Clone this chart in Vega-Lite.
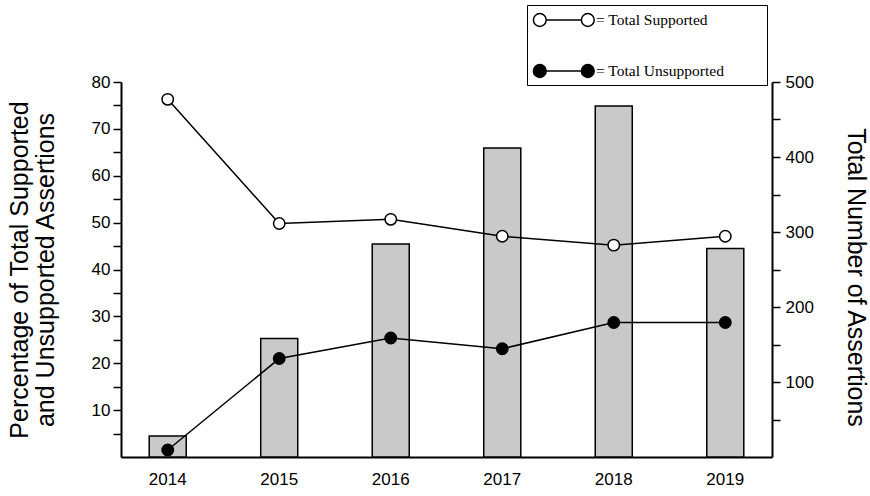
{
  "$schema": "https://vega.github.io/schema/vega-lite/v6.json",
  "width": 651,
  "height": 375,
  "autosize": {"type": "none"},
  "padding": {"left": 121, "top": 82, "right": 98, "bottom": 39},
  "background": "white",
  "datasets": {
    "totals": [
      {"year": "2014", "total": 28},
      {"year": "2015", "total": 158},
      {"year": "2016", "total": 284},
      {"year": "2017", "total": 412},
      {"year": "2018", "total": 468},
      {"year": "2019", "total": 278}
    ],
    "pcts": [
      {"year": "2014", "series": "Total Supported", "pct": 76.3},
      {"year": "2015", "series": "Total Supported", "pct": 49.8},
      {"year": "2016", "series": "Total Supported", "pct": 50.7},
      {"year": "2017", "series": "Total Supported", "pct": 47.1},
      {"year": "2018", "series": "Total Supported", "pct": 45.2},
      {"year": "2019", "series": "Total Supported", "pct": 47.1},
      {"year": "2014", "series": "Total Unsupported", "pct": 1.5},
      {"year": "2015", "series": "Total Unsupported", "pct": 21.0},
      {"year": "2016", "series": "Total Unsupported", "pct": 25.4},
      {"year": "2017", "series": "Total Unsupported", "pct": 23.1},
      {"year": "2018", "series": "Total Unsupported", "pct": 28.7},
      {"year": "2019", "series": "Total Unsupported", "pct": 28.7}
    ]
  },
  "config": {
    "view": {"stroke": null},
    "axis": {
      "labelFont": "Liberation Sans",
      "titleFont": "Liberation Sans",
      "labelColor": "black",
      "titleColor": "black",
      "domainColor": "black",
      "tickColor": "black",
      "domainWidth": 2,
      "tickWidth": 1.5,
      "labelFontSize": 17,
      "titleFontSize": 25,
      "titleFontWeight": "normal",
      "labelOverlap": false,
      "grid": false
    },
    "legend": {
      "orient": "none",
      "legendX": 406,
      "legendY": -77,
      "padding": 4,
      "rowPadding": 30,
      "strokeColor": "black",
      "labelFont": "Liberation Serif",
      "labelFontSize": 15.5,
      "labelColor": "black",
      "labelOffset": 43,
      "symbolSize": 400,
      "symbolStrokeColor": "black",
      "symbolStrokeWidth": 1.5,
      "symbolOpacity": 1,
      "symbolType": "M0.42,0 C0.42,0.354 0.134,0.64 -0.22,0.64 C-0.574,0.64 -0.86,0.354 -0.86,0 C-0.86,-0.354 -0.574,-0.64 -0.22,-0.64 C0.134,-0.64 0.42,-0.354 0.42,0 Z M5.22,0 C5.22,0.354 4.934,0.64 4.58,0.64 C4.226,0.64 3.94,0.354 3.94,0 C3.94,-0.354 4.226,-0.64 4.58,-0.64 C4.934,-0.64 5.22,-0.354 5.22,0 Z M0.42,0 L3.94,0 M21.8,0 L21.8,0"
    }
  },
  "layer": [
    {
      "data": {"name": "totals"},
      "mark": {"type": "bar", "fill": "#c9c9c9", "stroke": "black", "strokeWidth": 1.5},
      "encoding": {
        "x": {
          "field": "year",
          "type": "ordinal",
          "scale": {"paddingInner": 0.668, "paddingOuter": 0.253},
          "axis": {"title": null, "ticks": false, "labelAngle": 0, "labelPadding": 14}
        },
        "y": {
          "field": "total",
          "type": "quantitative",
          "scale": {"domain": [0, 500], "nice": false},
          "axis": {
            "orient": "right",
            "title": "Total Number of Assertions",
            "values": [50, 100, 150, 200, 250, 300, 350, 400, 450, 500],
            "labelExpr": "datum.value % 100 === 0 ? datum.label : ''",
            "tickSize": 8,
            "labelPadding": 5,
            "titlePadding": 29,
            "titleY": 195
          }
        }
      }
    },
    {
      "data": {"name": "pcts"},
      "encoding": {
        "x": {"field": "year", "type": "ordinal"},
        "y": {
          "field": "pct",
          "type": "quantitative",
          "scale": {"domain": [0, 80], "nice": false},
          "axis": {
            "orient": "left",
            "title": ["Percentage of Total Supported", "and Unsupported Assertions"],
            "titleLineHeight": 26,
            "values": [5, 10, 15, 20, 25, 30, 35, 40, 45, 50, 55, 60, 65, 70, 75, 80],
            "labelExpr": "round(datum.value) % 10 == 0 ? format(datum.value, 'd') : ''",
            "tickSize": 8,
            "labelPadding": 3,
            "titlePadding": 33
          }
        }
      },
      "layer": [
        {
          "mark": {"type": "line", "color": "black", "strokeWidth": 1.5},
          "encoding": {
            "detail": {"field": "series"}
          }
        },
        {
          "mark": {"type": "point", "filled": true, "stroke": "black", "strokeWidth": 1.5, "size": 130, "opacity": 1},
          "encoding": {
            "fill": {
              "field": "series",
              "type": "nominal",
              "scale": {"domain": ["Total Supported", "Total Unsupported"], "range": ["white", "black"]},
              "legend": {"title": null, "labelExpr": "'= ' + datum.label"}
            }
          }
        }
      ]
    }
  ],
  "resolve": {"scale": {"y": "independent"}}
}
